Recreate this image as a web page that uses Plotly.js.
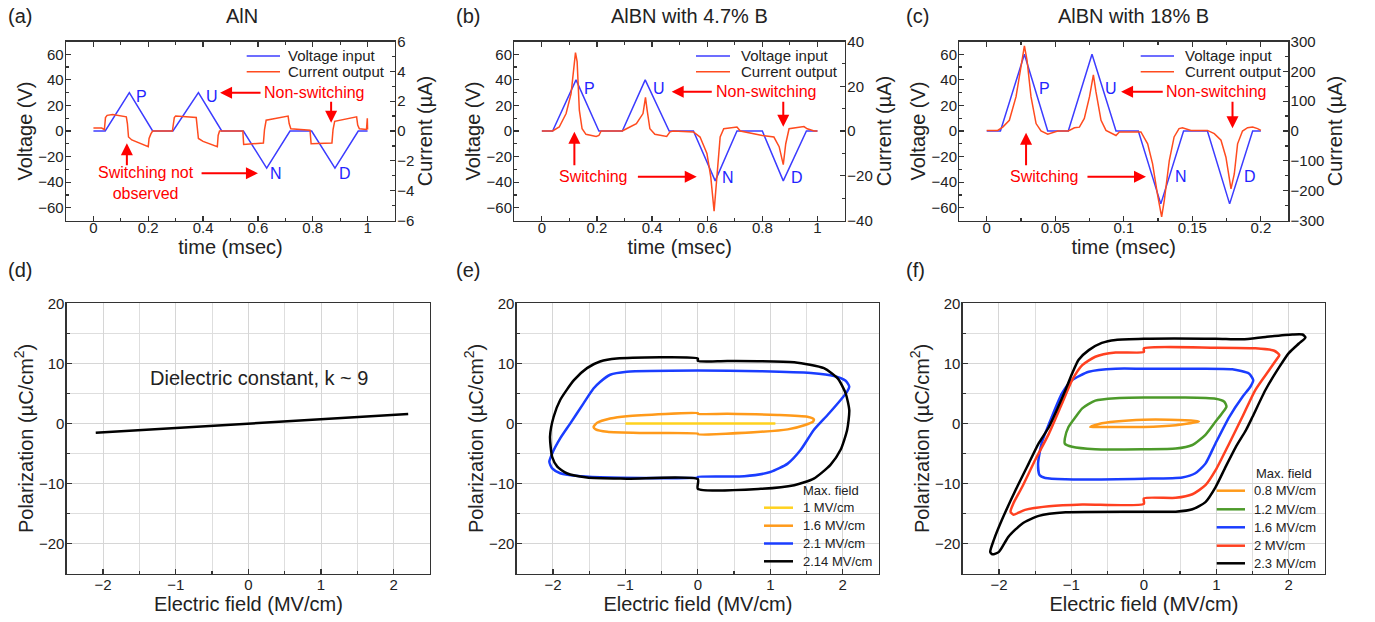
<!DOCTYPE html>
<html><head><meta charset="utf-8">
<script src="https://cdn.plot.ly/plotly-3.0.1.min.js"></script>
<style>html,body{margin:0;padding:0;background:#fff}#chart{width:1375px;height:622px}</style>
</head><body><div id="chart"></div>
<script>
// ---------- (a) AlN PUND ----------
const a_tV = [0, 0.043, 0.131, 0.216, 0.29, 0.383, 0.468, 0.547, 0.632, 0.717, 0.796, 0.881, 0.966, 1.0];
const a_V  = [0, 0, 30, 0, 0, 30, 0, 0, -29, 0, 0, -29, 0, 0];
const a_tI = [0, 0.03, 0.04, 0.044, 0.05, 0.07, 0.12, 0.124, 0.128, 0.14, 0.2, 0.203, 0.21, 0.216, 0.288, 0.291, 0.295, 0.3, 0.375, 0.379, 0.383, 0.4, 0.452, 0.455, 0.46, 0.545, 0.548, 0.62, 0.624, 0.63, 0.71, 0.714, 0.72, 0.79, 0.794, 0.87, 0.874, 0.88, 0.96, 0.964, 0.97, 0.996, 0.999, 1.0];
const a_I  = [0.2, 0.2, 0.1, 0.9, 1.05, 1.1, 0.95, 0.5, -0.4, -0.6, -1.05, -0.5, -0.18, 0, 0, 0.4, 0.9, 1.0, 0.9, 0.2, -0.5, -0.7, -1.05, -0.3, 0, 0, -0.9, -0.8, 0.1, 0.72, 1.0, 0.5, 0.15, 0.05, -0.85, -0.8, 0.1, 0.65, 0.95, 0.4, 0.15, 0.1, 0.85, 0.1];
// ---------- (b) AlBN 4.7% B ----------
const b_tV = [0, 0.039, 0.124, 0.207, 0.292, 0.375, 0.462, 0.55, 0.629, 0.708, 0.8, 0.876, 0.96, 1.0];
const b_V  = [0, 0, 40, 0, 0, 40, 0, 0, -39, 0, 0, -39, 0, 0];
const b_tI = [0, 0.039, 0.063, 0.088, 0.106, 0.116, 0.122, 0.128, 0.136, 0.146, 0.16, 0.197, 0.207, 0.215, 0.292, 0.307, 0.343, 0.367, 0.376, 0.382, 0.392, 0.41, 0.453, 0.465, 0.477, 0.55, 0.574, 0.599, 0.613, 0.625, 0.635, 0.647, 0.66, 0.708, 0.72, 0.8, 0.842, 0.861, 0.876, 0.885, 0.897, 0.951, 0.963, 0.988, 1.0];
const b_I  = [0, 0, 1.8, 7.8, 16.7, 28.7, 35, 31, 9.3, 1, -1.5, -2.4, -2, 0, 0, 1, 3.3, 7.8, 15, 9.3, 1, -1.5, -2.4, -0.4, 0, -0.4, -2.7, -10, -20.6, -35.8, -19, -2.7, 1, 1.8, 0, -2, -2.7, -7, -15, -5.7, 1, 2, 1, 0, 0];
// ---------- (c) AlBN 18% B ----------
const c_tV = [0, 0.01, 0.0275, 0.0445, 0.0595, 0.0768, 0.0943, 0.1106, 0.127, 0.1436, 0.161, 0.1772, 0.194, 0.2];
const c_V  = [0, 0, 60, 0, 0, 60, 0, 0, -57, 0, 0, -57, 0, 0];
const c_tI = [0, 0.008, 0.0117, 0.0165, 0.0214, 0.025, 0.0275, 0.0294, 0.0323, 0.036, 0.0396, 0.0445, 0.0469, 0.0518, 0.0595, 0.064, 0.0676, 0.0712, 0.075, 0.0778, 0.0797, 0.0834, 0.087, 0.0906, 0.0943, 0.0967, 0.1125, 0.1174, 0.121, 0.1245, 0.1276, 0.1295, 0.1332, 0.1367, 0.1403, 0.1428, 0.149, 0.161, 0.166, 0.1709, 0.1745, 0.1782, 0.1806, 0.183, 0.1866, 0.1903, 0.194, 0.1976, 0.2];
const c_I  = [2, 2, 13, 36, 115, 216, 285, 238, 115, 25, 0, -11, -7, 0, 0, 11, 13, 42, 115, 188, 131, 36, 2, -7, -15, -3, -3, -43, -110, -211, -288, -234, -99, -20, 8, 11, 2, 2, -9, -31, -88, -194, -144, -43, 0, 11, 13, 8, 2];
// ---------- (d) AlN P-E ----------
const d_E = [-2.1, 2.2];
const d_P = [-1.55, 1.55];
// ---------- (e) AlBN 4.7% P-E loops ----------
const e_names = ['1 MV/cm', '1.6 MV/cm', '2.1 MV/cm', '2.14 MV/cm'];
const e1_E = [-1.0, 0, 1.07, 0, -1.0];
const e1_P = [0, 0.05, 0, -0.05, 0];
const e2_E = [0, -0.98, -1.21, -1.39, -1.44, -1.41, -1.25, -0.75, 0, 0, 0.87, 1.24, 1.47, 1.59, 1.6, 1.51, 1.1, 0.41, 0, 0];
const e2_P = [1.7, 1.2, 0.8, 0.1, -0.6, -1.0, -1.4, -1.6, -1.7, -1.8, -1.4, -1.0, -0.3, 0.3, 0.7, 1.1, 1.4, 1.6, 1.6, 1.7];
const e3_E = [0, -0.98, -1.21, -1.35, -1.44, -1.58, -1.76, -1.9, -2.01, -2.05, -2.01, -1.9, -1.62, -1.21, 0, 0, 0.64, 1.0, 1.24, 1.42, 1.6, 1.79, 1.97, 2.06, 2.09, 2.04, 1.88, 1.56, 0.87, 0];
const e3_P = [8.8, 8.6, 8.1, 6.9, 5.8, 3.3, 0, -2.5, -5.0, -6.4, -7.5, -8.3, -8.8, -9.0, -9.0, -8.9, -8.8, -8.1, -6.7, -4.4, -1.1, 1.4, 3.9, 5.3, 6.1, 7.1, 7.9, 8.4, 8.7, 8.8];
const e4_E = [0, -1.12, -1.35, -1.53, -1.71, -1.9, -1.99, -2.04, -2.01, -1.94, -1.81, -1.53, -0.98, 0, 0, 0.87, 1.33, 1.6, 1.83, 1.97, 2.06, 2.09, 2.04, 1.93, 1.74, 1.33, 0.41, 0, 0];
const e4_P = [10.8, 10.8, 10.3, 9.2, 7.2, 3.9, 1.1, -2.2, -5.6, -7.2, -8.3, -9.0, -9.2, -9.3, -10.9, -10.9, -10.3, -9.2, -6.9, -4.4, -1.1, 2.2, 5.0, 7.5, 9.2, 10.2, 10.4, 10.4, 10.8];
// ---------- (f) AlBN 18% P-E loops ----------
const f_names = ['0.8 MV/cm', '1.2 MV/cm', '1.6 MV/cm', '2 MV/cm', '2.3 MV/cm'];
const f1_E = [0, -0.39, -0.62, -0.74, -0.58, 0, 0.44, 0.76, 0.71, 0.35, 0];
const f1_P = [0.6, 0.3, -0.1, -0.6, -0.6, -0.6, -0.3, 0.3, 0.4, 0.6, 0.6];
const f2_E = [0, -0.39, -0.67, -0.85, -0.94, -1.04, -1.09, -1.09, -0.99, -0.67, 0, 0.44, 0.67, 0.85, 0.99, 1.08, 1.14, 1.11, 0.99, 0.53, 0];
const f2_P = [4.3, 4.2, 3.8, 2.5, 1.1, -0.6, -2.5, -3.4, -3.9, -4.3, -4.3, -4.2, -3.6, -1.9, 0.3, 1.7, 2.8, 3.6, 4.1, 4.3, 4.3];
const f3_E = [0, -0.39, -0.76, -0.99, -1.13, -1.27, -1.41, -1.46, -1.44, -1.36, -1.08, 0, 0.53, 0.71, 0.85, 0.99, 1.18, 1.36, 1.47, 1.51, 1.45, 1.22, 0.76, 0];
const f3_P = [9.1, 9.1, 8.6, 7.2, 5.0, 1.1, -3.3, -6.7, -8.6, -9.1, -9.3, -9.2, -9.0, -8.3, -6.7, -3.3, 1.1, 4.4, 6.1, 7.2, 8.3, 9.0, 9.1, 9.1];
const f4_E = [0, -0.39, -0.67, -0.85, -0.99, -1.13, -1.31, -1.5, -1.68, -1.8, -1.84, -1.8, -1.64, -1.31, -0.85, 0, 0, 0.44, 0.67, 0.85, 0.99, 1.18, 1.36, 1.54, 1.73, 1.84, 1.87, 1.8, 1.54, 0.99, 0, 0];
const f4_P = [11.9, 11.8, 11.1, 9.7, 7.2, 3.3, -1.7, -6.1, -10.6, -13.3, -14.7, -15.2, -14.4, -13.8, -13.5, -13.4, -12.5, -12.4, -11.8, -10.3, -7.8, -3.3, 1.1, 5.6, 8.9, 10.8, 11.4, 12.1, 12.5, 12.6, 12.5, 11.9];
const f5_E = [0, -0.39, -0.58, -0.76, -0.9, -0.99, -1.08, -1.18, -1.31, -1.45, -1.59, -1.77, -1.96, -2.07, -2.12, -2.09, -2.0, -1.87, -1.68, -1.45, -1.08, 0, 0.44, 0.67, 0.85, 0.99, 1.13, 1.27, 1.41, 1.5, 1.68, 1.87, 2.0, 2.14, 2.23, 2.19, 2.05, 1.68, 1.36, 0.99, 0];
const f5_P = [14.1, 13.9, 13.4, 12.2, 10.6, 8.3, 5.6, 2.8, -0.6, -3.3, -6.7, -11.1, -16.1, -19.4, -21.4, -21.8, -21.4, -18.9, -16.7, -15.4, -14.8, -14.7, -14.7, -14.3, -13.1, -10.6, -7.2, -3.9, -1.1, 1.1, 5.6, 9.4, 11.7, 13.3, 14.3, 14.8, 14.8, 14.4, 14.0, 14.1, 14.1];
const top_legend = ['Voltage input', 'Current output'];
const legend_title = 'Max. field';

// ---------- styling ----------
const W = 1375, H = 622;
const px = v => v / W, py = v => 1 - v / H;
const FONT = 'Liberation Sans, Arial, sans-serif';
const VBLUE = '#3c3cff', IRED = '#ff4b1f', ARED = '#ff0000', LBLUE = '#2323ff';

const traces = [];
function pund(xa, ya, ya2, tV, V, tI, I) {
  traces.push({x: tV, y: V, xaxis: xa, yaxis: ya, type: 'scatter', mode: 'lines', name: top_legend[0],
    line: {color: VBLUE, width: 1.5}, showlegend: false});
  traces.push({x: tI, y: I, xaxis: xa, yaxis: ya2, type: 'scatter', mode: 'lines', name: top_legend[1],
    line: {color: IRED, width: 1.5}, showlegend: false});
}
pund('x', 'y', 'y2', a_tV, a_V, a_tI, a_I);
pund('x2', 'y3', 'y4', b_tV, b_V, b_tI, b_I);
pund('x3', 'y5', 'y6', c_tV, c_V, c_tI, c_I);

traces.push({x: d_E, y: d_P, xaxis: 'x4', yaxis: 'y7', type: 'scatter', mode: 'lines',
  line: {color: '#000', width: 2.5}, showlegend: false});

const eColors = ['#ffd21f', '#ff9a1a', '#1a3dff', '#000000'];
[[e1_E, e1_P], [e2_E, e2_P], [e3_E, e3_P], [e4_E, e4_P]].forEach((d, i) => {
  traces.push({x: d[0], y: d[1], xaxis: 'x5', yaxis: 'y8', type: 'scatter', mode: 'lines', name: e_names[i],
    line: {color: eColors[i], width: 2.5, shape: i === 0 ? 'linear' : 'spline', smoothing: 0.6}, showlegend: false});
});
const fColors = ['#ff9a1a', '#4c9a2a', '#1a3dff', '#ff4020', '#000000'];
[[f1_E, f1_P], [f2_E, f2_P], [f3_E, f3_P], [f4_E, f4_P], [f5_E, f5_P]].forEach((d, i) => {
  traces.push({x: d[0], y: d[1], xaxis: 'x6', yaxis: 'y9', type: 'scatter', mode: 'lines', name: f_names[i],
    line: {color: fColors[i], width: 2.5, shape: 'spline', smoothing: 0.6}, showlegend: false});
});

const axBase = {
  showline: true, linecolor: '#333', linewidth: 1.3, ticks: 'inside', ticklen: 5, tickwidth: 1.2,
  tickcolor: '#333', tickfont: {family: FONT, size: 15, color: '#222'}, showgrid: false, zeroline: false,
  fixedrange: true
};
const titleFont = {family: FONT, size: 20, color: '#222'};
function xTop(dom, range, dtick, minor) {
  return Object.assign({}, axBase, {domain: dom, range: range, dtick: dtick, tick0: 0, mirror: 'ticks',
    ticklabelstandoff: -7,
    minor: {dtick: minor, tick0: 0, ticks: 'inside', ticklen: 3, tickcolor: '#333'},
    title: {text: 'time (msec)', font: titleFont, standoff: 4}});
}
function yLeft(anchor, dom) {
  return Object.assign({}, axBase, {anchor: anchor, domain: dom, range: [-70, 70], dtick: 20, tick0: 0,
    ticklabelstandoff: -2,
    minor: {dtick: 10, ticks: 'inside', ticklen: 3, tickcolor: '#333'},
    title: {text: 'Voltage (V)', font: titleFont, standoff: 0}});
}
function yRight(anchor, over, range, dtick) {
  return Object.assign({}, axBase, {anchor: anchor, overlaying: over, side: 'right', range: range, dtick: dtick, tick0: 0,
    ticklabelstandoff: -2,
    minor: {dtick: dtick / 2, ticks: 'inside', ticklen: 3, tickcolor: '#333'},
    title: {text: 'Current (µA)', font: titleFont, standoff: 3}});
}
function xBot(dom) {
  return Object.assign({}, axBase, {domain: dom, range: [-2.5, 2.5], dtick: 1, tick0: 0, mirror: true,
    ticklabelstandoff: -3,
    showgrid: true, gridcolor: '#d6d6d6', gridwidth: 1,
    minor: {dtick: 0.5, tick0: 0, ticks: 'inside', ticklen: 3, tickcolor: '#333', showgrid: true, gridcolor: '#dedede'},
    title: {text: 'Electric field (MV/cm)', font: titleFont, standoff: 3}});
}
function yBot(anchor, dom) {
  return Object.assign({}, axBase, {anchor: anchor, domain: dom, range: [-25, 20], dtick: 10, tick0: 0, mirror: true,
    ticklabelstandoff: -2,
    showgrid: true, gridcolor: '#d6d6d6', gridwidth: 1,
    minor: {dtick: 5, tick0: 0, ticks: 'inside', ticklen: 3, tickcolor: '#333', showgrid: true, gridcolor: '#dedede'},
    title: {text: 'Polarization (µC/cm<sup>2</sup>)', font: titleFont, standoff: 0}});
}
const topY = [py(220.5), py(41.5)];
const botY = [py(573.5), py(303.3)];

// ---------- annotations & legend keys ----------
const ann = [];
const shapes = [];
function txt(t, x, y, size, color, ref, anchor) {
  ann.push({text: t, x: x, y: y, xref: ref ? ref[0] : 'paper', yref: ref ? ref[1] : 'paper', showarrow: false,
    font: {family: FONT, size: size, color: color}, xanchor: anchor || 'center', yanchor: 'middle', align: 'center'});
}
function arrow(ref, x0, y0, x1, y1) {
  ann.push({text: '', x: x1, y: y1, ax: x0, ay: y0, xref: ref[0], yref: ref[1], axref: ref[0], ayref: ref[1],
    showarrow: true, arrowhead: 2, arrowsize: 1.2, arrowwidth: 2, arrowcolor: ARED, standoff: 0, startstandoff: 0});
}
function key(x0, x1, y, color, width, label, tx, size) {
  shapes.push({type: 'line', xref: 'paper', yref: 'paper', x0: px(x0), x1: px(x1), y0: py(y), y1: py(y),
    line: {color: color, width: width}});
  txt(label, px(tx), py(y), size, '#222', null, 'left');
}
// top legends
[[246.7, 280, 286], [696, 730, 739], [1140.7, 1174, 1183.3]].forEach(L => {
  key(L[0], L[1], 56, VBLUE, 1.5, top_legend[0], L[2], 15);
  key(L[0], L[1], 71.7, IRED, 1.5, top_legend[1], L[2], 15);
});
// (e) legend
txt(legend_title, px(800.7), py(490), 13, '#222', null, 'left');
[507.7, 525.7, 543.5, 561.3].forEach((y, i) => key(764, 793, y, eColors[i], 2.5, e_names[i], 800.7, 13));
// (f) legend
txt(legend_title, px(1254), py(473.3), 13, '#222', null, 'left');
[490.7, 509.3, 527.3, 545.7, 563.3].forEach((y, i) => key(1216.7, 1245, y, fColors[i], 2.5, f_names[i], 1252.3, 13));

// panel letters & titles
[['(a)', 6, 16], ['(b)', 454, 16], ['(c)', 904, 16], ['(d)', 6, 270], ['(e)', 454, 270], ['(f)', 904, 270]].forEach(p => {
  txt(p[0], px(p[1]), py(p[2]), 20, '#222', null, 'left');
});
txt('AlN', px(241.7), py(16), 20, '#222');
txt('AlBN with 4.7% B', px(689), py(16), 20, '#222');
txt('AlBN with 18% B', px(1133.3), py(16), 20, '#222');

// (a)
let R = ['x', 'y'];
txt('Non-switching', 0.804, 30, 16, ARED, R);
arrow(R, 0.615, 30, 0.462, 30);
arrow(R, 0.867, 24, 0.867, 6.5);
txt('Switching not<br>observed', 0.19, -40.5, 16, ARED, R);
arrow(R, 0.122, -28, 0.122, -9.6);
arrow(R, 0.389, -33, 0.6, -33);
txt('P', 0.176, 27, 16, LBLUE, R); txt('U', 0.431, 27, 16, LBLUE, R);
txt('N', 0.666, -33, 16, LBLUE, R); txt('D', 0.917, -33, 16, LBLUE, R);
// (b)
R = ['x2', 'y3'];
txt('Non-switching', 0.814, 30.7, 16, ARED, R);
arrow(R, 0.622, 30.7, 0.471, 30.7);
arrow(R, 0.876, 24, 0.876, 3.3);
txt('Switching', 0.185, -35.8, 16, ARED, R);
arrow(R, 0.118, -28, 0.118, -0.5);
arrow(R, 0.343, -35.8, 0.562, -35.8);
txt('P', 0.173, 32.9, 16, LBLUE, R); txt('U', 0.424, 32.9, 16, LBLUE, R);
txt('N', 0.675, -36.5, 16, LBLUE, R); txt('D', 0.927, -36.5, 16, LBLUE, R);
// (c)
R = ['x3', 'y5'];
txt('Non-switching', 0.1676, 30.7, 16, ARED, R);
arrow(R, 0.1295, 30.7, 0.098, 30.7);
arrow(R, 0.1793, 24, 0.1793, 2.1);
txt('Switching', 0.042, -35.8, 16, ARED, R);
arrow(R, 0.0287, -28, 0.0287, -1.3);
arrow(R, 0.0724, -35.8, 0.1162, -35.8);
txt('P', 0.042, 32.9, 16, LBLUE, R); txt('U', 0.0907, 32.9, 16, LBLUE, R);
txt('N', 0.1417, -35.8, 16, LBLUE, R); txt('D', 0.192, -35.8, 16, LBLUE, R);
// (d)
txt('Dielectric constant, k ~ 9', 0.14, 7.5, 20, '#222', ['x4', 'y7']);

const layout = {
  width: W, height: H, margin: {l: 0, r: 0, t: 0, b: 0}, paper_bgcolor: '#fff', plot_bgcolor: 'rgba(0,0,0,0)',
  font: {family: FONT, color: '#222'}, showlegend: false,
  xaxis: Object.assign(xTop([px(66), px(395)], [-0.1, 1.1], 0.2, 0.1), {anchor: 'y'}),
  yaxis: yLeft('x', topY),
  yaxis2: yRight('x', 'y', [-6, 6], 2),
  xaxis2: Object.assign(xTop([px(514.3), px(845)], [-0.1, 1.1], 0.2, 0.1), {anchor: 'y3'}),
  yaxis3: yLeft('x2', topY),
  yaxis4: yRight('x2', 'y3', [-40, 40], 20),
  xaxis3: Object.assign(xTop([px(959.3), px(1288.3)], [-0.02, 0.22], 0.05, 0.025), {anchor: 'y5'}),
  yaxis5: yLeft('x3', topY),
  yaxis6: yRight('x3', 'y5', [-300, 300], 100),
  xaxis4: Object.assign(xBot([px(66.7), px(430)]), {anchor: 'y7'}),
  yaxis7: yBot('x4', botY),
  xaxis5: Object.assign(xBot([px(516.7), px(879)]), {anchor: 'y8'}),
  yaxis8: yBot('x5', botY),
  xaxis6: Object.assign(xBot([px(962.7), px(1325)]), {anchor: 'y9'}),
  yaxis9: yBot('x6', botY),
  annotations: ann, shapes: shapes
};

Plotly.newPlot('chart', traces, layout, {staticPlot: true, displayModeBar: false});
</script></body></html>
